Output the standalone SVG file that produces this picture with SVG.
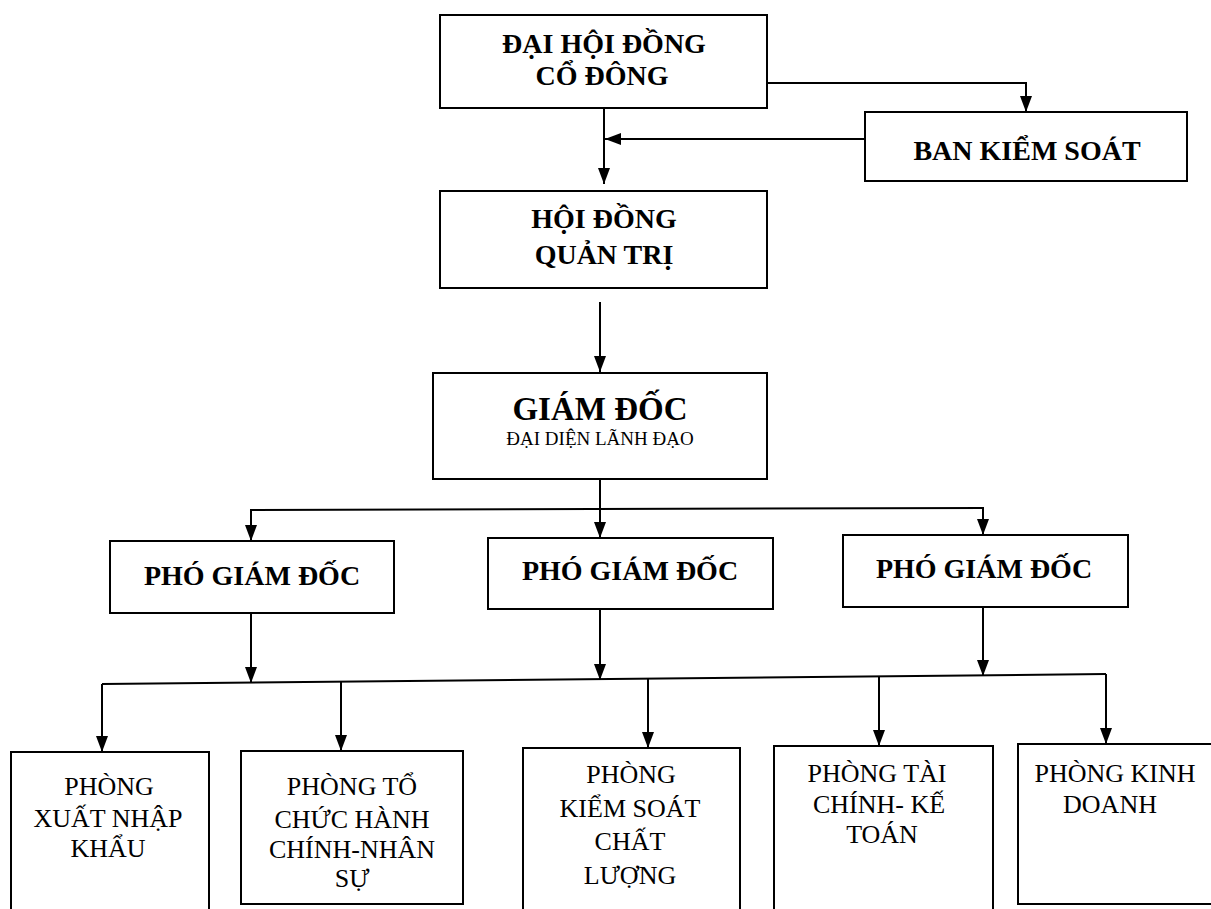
<svg xmlns="http://www.w3.org/2000/svg" width="1211" height="909" viewBox="0 0 1211 909">
<style>
.box{fill:#fff;stroke:#000;stroke-width:2}
text{font-family:'Liberation Serif','Times New Roman','DejaVu Serif',serif;fill:#000;text-anchor:middle}
.b{font-weight:bold;font-size:28px}
.big{font-weight:bold;font-size:33px}
.sm{font-size:19px}
.r{font-size:26px}
.c{fill:none;stroke:#000;stroke-width:2}
</style>
<defs>
<marker id="ah" viewBox="0 0 16 12" refX="16" refY="6" markerWidth="16" markerHeight="12" markerUnits="userSpaceOnUse" orient="auto">
<path d="M0,0 L16,6 L0,12 z" fill="#000"/>
</marker>
</defs>
<rect width="1211" height="909" fill="#fff"/>
<g id="connectors">
<polyline class="c" points="767,83 1026,83 1026,112" marker-end="url(#ah)"/>
<line class="c" x1="604" y1="108" x2="604" y2="184" marker-end="url(#ah)"/>
<line class="c" x1="865" y1="139" x2="605" y2="139" marker-end="url(#ah)"/>
<line class="c" x1="600" y1="302" x2="600" y2="372" marker-end="url(#ah)"/>
<line class="c" x1="600" y1="479" x2="600" y2="509"/>
<line class="c" x1="250" y1="510" x2="984" y2="508"/>
<line class="c" x1="251" y1="510" x2="251" y2="541" marker-end="url(#ah)"/>
<line class="c" x1="600" y1="509" x2="600" y2="538" marker-end="url(#ah)"/>
<line class="c" x1="983" y1="508" x2="983" y2="535" marker-end="url(#ah)"/>
<line class="c" x1="251" y1="613" x2="251" y2="683" marker-end="url(#ah)"/>
<line class="c" x1="600" y1="609" x2="600" y2="680" marker-end="url(#ah)"/>
<line class="c" x1="983" y1="607" x2="983" y2="676" marker-end="url(#ah)"/>
<line class="c" x1="102" y1="684" x2="1106" y2="674"/>
<line class="c" x1="102" y1="684" x2="102" y2="752" marker-end="url(#ah)"/>
<line class="c" x1="341" y1="682" x2="341" y2="751" marker-end="url(#ah)"/>
<line class="c" x1="648" y1="679" x2="648" y2="748" marker-end="url(#ah)"/>
<line class="c" x1="879" y1="676" x2="879" y2="746" marker-end="url(#ah)"/>
<line class="c" x1="1106" y1="674" x2="1106" y2="744" marker-end="url(#ah)"/>
</g>
<g id="dhdcd">
<rect class="box" x="440" y="15" width="327" height="93"/>
<text class="b" x="604" y="53">ĐẠI HỘI ĐỒNG</text>
<text class="b" x="602" y="85">CỔ ĐÔNG</text>
</g>
<g id="bks">
<rect class="box" x="865" y="112" width="322" height="69"/>
<text class="b" x="1027" y="160">BAN KIỂM SOÁT</text>
</g>
<g id="hdqt">
<rect class="box" x="440" y="191" width="327" height="97"/>
<text class="b" x="604" y="228">HỘI ĐỒNG</text>
<text class="b" x="604" y="264">QUẢN TRỊ</text>
</g>
<g id="gd">
<rect class="box" x="433" y="373" width="334" height="106"/>
<text class="big" x="600" y="420">GIÁM ĐỐC</text>
<text class="sm" x="600" y="445">ĐẠI DIỆN LÃNH ĐẠO</text>
</g>
<g id="pgd1">
<rect class="box" x="110" y="541" width="284" height="72"/>
<text class="b" x="252" y="585">PHÓ GIÁM ĐỐC</text>
</g>
<g id="pgd2">
<rect class="box" x="488" y="538" width="285" height="71"/>
<text class="b" x="630" y="580">PHÓ GIÁM ĐỐC</text>
</g>
<g id="pgd3">
<rect class="box" x="843" y="535" width="285" height="72"/>
<text class="b" x="984" y="578">PHÓ GIÁM ĐỐC</text>
</g>
<g id="p1">
<rect class="box" x="11" y="752" width="198" height="170"/>
<text class="r" x="109" y="795">PHÒNG</text>
<text class="r" x="108" y="827">XUẤT NHẬP</text>
<text class="r" x="108" y="857">KHẨU</text>
</g>
<g id="p2">
<rect class="box" x="241" y="751" width="222" height="153"/>
<text class="r" x="352" y="795">PHÒNG TỔ</text>
<text class="r" x="352" y="828">CHỨC HÀNH</text>
<text class="r" x="352" y="858">CHÍNH-NHÂN</text>
<text class="r" x="352" y="887">SỰ</text>
</g>
<g id="p3">
<rect class="box" x="523" y="748" width="217" height="175"/>
<text class="r" x="631" y="783">PHÒNG</text>
<text class="r" x="630" y="817">KIỂM SOÁT</text>
<text class="r" x="630" y="850">CHẤT</text>
<text class="r" x="630" y="884">LƯỢNG</text>
</g>
<g id="p4">
<rect class="box" x="774" y="746" width="219" height="177"/>
<text class="r" x="877" y="782">PHÒNG TÀI</text>
<text class="r" x="879" y="813">CHÍNH- KẾ</text>
<text class="r" x="882" y="843">TOÁN</text>
</g>
<g id="p5">
<rect class="box" x="1018" y="744" width="200" height="160"/>
<text class="r" x="1115" y="782">PHÒNG KINH</text>
<text class="r" x="1110" y="813">DOANH</text>
</g>
</svg>
